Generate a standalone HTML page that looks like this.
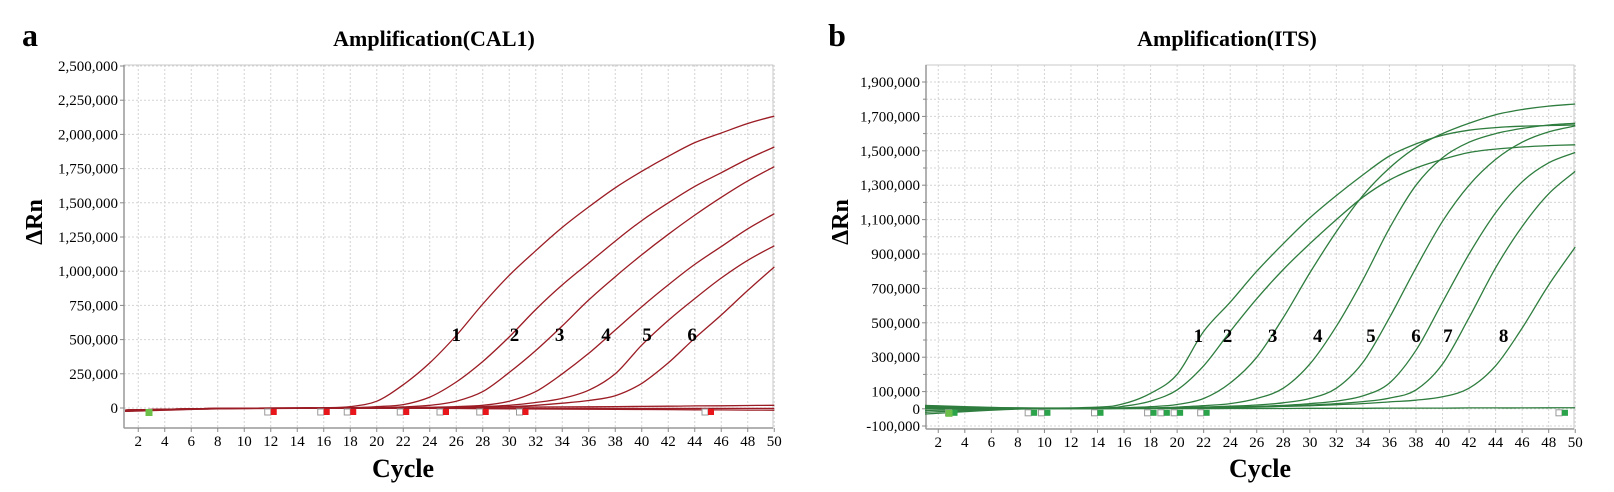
<!DOCTYPE html>
<html><head><meta charset="utf-8">
<style>
html,body{margin:0;padding:0;background:#fff;}
svg{display:block;font-family:"Liberation Serif",serif;}
</style></head>
<body>
<svg id="fig" width="1614" height="492" viewBox="0 0 1614 492" xmlns="http://www.w3.org/2000/svg">
<text x="30" y="46" font-size="32" font-weight="bold" text-anchor="middle">a</text>
<text x="434" y="46" font-size="22" font-weight="bold" text-anchor="middle">Amplification(CAL1)</text>
<text x="837" y="46" font-size="32" font-weight="bold" text-anchor="middle">b</text>
<text x="1227" y="46" font-size="22" font-weight="bold" text-anchor="middle">Amplification(ITS)</text>
<text x="403" y="477" font-size="26" font-weight="bold" text-anchor="middle">Cycle</text>
<text x="1260" y="477" font-size="26" font-weight="bold" text-anchor="middle">Cycle</text>
<text transform="translate(42,222) rotate(-90)" font-size="24" font-weight="bold" text-anchor="middle">ΔRn</text>
<text transform="translate(848,222) rotate(-90)" font-size="24" font-weight="bold" text-anchor="middle">ΔRn</text>
<g id="ga"></g><g id="gb"></g>
</svg>
<script>
// ---- data: chart a (CAL1), values in thousands
const cyclesA=[1,8,14,16,18,20,22,24,26,28,30,32,34,36,38,40,42,44,46,48,50];
const a1=[-15,-3,0,2,10,50,170,330,530,760,970,1150,1320,1470,1610,1730,1840,1940,2010,2080,2134];
const a2=[-15,-3,0,0,2,10,25,80,190,340,520,720,900,1060,1220,1370,1500,1620,1720,1820,1908];
const a3=[-15,-3,0,0,0,2,8,20,50,120,260,420,600,790,960,1120,1270,1410,1540,1660,1764];
const a4=[-15,-3,0,0,0,0,2,5,10,20,50,120,250,400,570,740,900,1050,1180,1310,1420];
const a5=[-15,-3,0,0,0,0,0,2,5,10,20,40,70,130,250,460,640,800,950,1080,1186];
const a6=[-15,-3,0,0,0,0,0,0,2,5,10,20,35,55,90,180,330,510,680,860,1031];
const aB1=[-20,-5,-2,-1,0,1,2,3,4,5,6,7,8,9,10,12,13,15,16,18,20];
const aB2=[-20,-5,-2,-2,-2,-2,-3,-3,-4,-5,-6,-7,-8,-9,-10,-11,-12,-13,-14,-15,-16];
const aB3=[-25,-6,-3,-3,-3,-3,-3,-3,-3,-3,-3,-3,-3,-3,-3,-3,-3,-3,-3,-3,-3];
const seriesA=[a1,a2,a3,a4,a5,a6,aB1,aB2,aB3];
const labelsA=["1","2","3","4","5","6"];
const labelCyclesA=[26.0,30.4,33.8,37.3,40.4,43.8];
const markersA=[12,16,18,22,25,28,31,45];
const yTicksA=[0,250,500,750,1000,1250,1500,1750,2000,2250,2500];
const xTicks=[2,4,6,8,10,12,14,16,18,20,22,24,26,28,30,32,34,36,38,40,42,44,46,48,50];
// ---- data: chart b (ITS)
const cyclesB=[1,8,14,16,18,20,22,24,26,28,30,32,34,36,38,40,42,44,46,48,50];
const b1=[20,5,10,30,90,200,450,620,800,960,1110,1240,1360,1470,1540,1590,1620,1635,1643,1647,1650];
const b2=[15,5,5,15,45,110,250,450,640,810,960,1100,1230,1330,1400,1450,1490,1510,1522,1530,1535];
const b3=[10,4,3,6,12,25,60,150,300,530,790,1030,1240,1400,1520,1600,1660,1710,1740,1760,1772];
const b4=[5,3,2,3,5,10,18,30,60,120,260,480,750,1050,1300,1460,1550,1600,1630,1650,1660];
const b5=[0,2,2,3,4,6,10,15,22,35,60,120,270,530,820,1090,1300,1450,1550,1610,1645];
const b6=[-10,1,2,3,4,5,7,10,14,20,30,45,75,150,340,620,900,1140,1320,1430,1490];
const b7=[-20,0,2,3,4,5,6,8,11,15,22,30,42,62,110,260,530,820,1060,1250,1380];
const b8=[-30,-2,1,2,3,4,5,7,10,14,18,24,30,40,50,70,120,250,470,720,940];
const bB=[10,2,1,1,1,1,1,2,2,2,3,3,3,4,4,4,5,5,5,6,6];
const seriesB=[b1,b2,b3,b4,b5,b6,b7,b8,bB];
const labelsB=["1","2","3","4","5","6","7","8"];
const labelCyclesB=[21.6,23.8,27.2,30.6,34.6,38.0,40.4,44.6];
const markersB=[3,9,10,14,18,19,20,22,49];
const yTicksB=[-100,0,100,300,500,700,900,1100,1300,1500,1700,1900];
const yMinorB=[200,400,600,800,1000,1200,1400,1600,1800];

const NS="http://www.w3.org/2000/svg";
function mk(parent,tag,attrs){const e=document.createElementNS(NS,tag);for(const k in attrs)e.setAttribute(k,attrs[k]);parent.appendChild(e);return e;}
function fmt(v){return v===0?"0":(v*1000).toLocaleString("en-US");}
function pathFrom(pts){let d="M"+pts[0][0].toFixed(1)+","+pts[0][1].toFixed(1);
 for(let i=0;i<pts.length-1;i++){const p0=pts[Math.max(0,i-1)],p1=pts[i],p2=pts[i+1],p3=pts[Math.min(pts.length-1,i+2)];
  const c1=[p1[0]+(p2[0]-p0[0])/6,p1[1]+(p2[1]-p0[1])/6],c2=[p2[0]-(p3[0]-p1[0])/6,p2[1]-(p3[1]-p1[1])/6];
  d+=" C"+c1[0].toFixed(1)+","+c1[1].toFixed(1)+" "+c2[0].toFixed(1)+","+c2[1].toFixed(1)+" "+p2[0].toFixed(1)+","+p2[1].toFixed(1);}
 return d;}

function drawChart(g,cfg){
 const X=c=>cfg.x0+(c-1)*cfg.dx;
 const Y=v=>cfg.y0-v*cfg.dy;
 const L=cfg.left,R=cfg.right,T=cfg.top,B=cfg.bottom;
 const grid=mk(g,"g",{});
 
 
 xTicks.forEach(t=>{mk(grid,"line",{x1:X(t),x2:X(t),y1:T,y2:B,stroke:"#d4d4d4","stroke-dasharray":"2,2","stroke-width":1});});
 cfg.yGrid.forEach(t=>{mk(grid,"line",{x1:L,x2:R,y1:Y(t),y2:Y(t),stroke:"#d4d4d4","stroke-dasharray":"2,2","stroke-width":1});});
 const frame=mk(g,"rect",{x:L,y:T,width:R-L,height:B-T,fill:"none",stroke:"#c8c8c8","stroke-width":1});
 
 
 mk(g,"line",{x1:L,x2:L,y1:T,y2:B,stroke:"#999","stroke-width":1.5});
 mk(g,"line",{x1:L,x2:R,y1:B,y2:B,stroke:"#999","stroke-width":1.5});
 cfg.yTicks.forEach(t=>{
  mk(g,"line",{x1:L-4,x2:L,y1:Y(t),y2:Y(t),stroke:"#888"});
  const tx=mk(g,"text",{x:L-6,y:Y(t)+5,"font-size":15,"text-anchor":"end"});tx.textContent=fmt(t);
  
  
 });
 (cfg.yMinor||[]).forEach(t=>{mk(g,"line",{x1:L-3,x2:L,y1:Y(t),y2:Y(t),stroke:"#888"});});
 xTicks.forEach(t=>{
  mk(g,"line",{x1:X(t),x2:X(t),y1:B,y2:B+4,stroke:"#888"});
  const tx=mk(g,"text",{x:X(t),y:B+18,"font-size":15,"text-anchor":"middle"});tx.textContent=t;
  
  
 });
 cfg.series.forEach((s,i)=>{
  const pts=cfg.cycles.map((c,j)=>[X(c),Y(s[j])]);
  const p=mk(g,"path",{d:pathFrom(pts),fill:"none",stroke:cfg.color,"stroke-width":1.3});
  
  
 });
 cfg.markers.forEach(c=>{
  mk(g,"rect",{x:X(c)-6,y:Y(0)+1,width:6,height:6,fill:"#fff",stroke:"#999","stroke-width":1});
  const m=mk(g,"rect",{x:X(c),y:Y(0)+1,width:6,height:6,fill:cfg.markColor});
  
  
 });
 const gm=mk(g,"rect",{x:X(3)-6,y:Y(0)+1,width:7,height:7,fill:"#6cc04a"});
 
 
 cfg.labels.forEach((l,i)=>{
  const tx=mk(g,"text",{x:X(cfg.labelCycles[i]),y:cfg.labelY,"font-size":19,"font-weight":"bold","text-anchor":"middle"});tx.textContent=l;
  
  
 });
}
drawChart(document.getElementById("ga"),{x0:125,dx:13.25,y0:408,dy:34.2/250,left:124,right:773,top:65,bottom:428,
 yTicks:yTicksA,yGrid:yTicksA,series:seriesA,cycles:cyclesA,color:"#9b1c24",markColor:"#e8151b",markers:markersA,
 labels:labelsA,labelCycles:labelCyclesA,labelY:341});
drawChart(document.getElementById("gb"),{x0:925,dx:13.27,y0:408.8,dy:0.172,left:926,right:1574,top:65,bottom:429,
 yTicks:yTicksB,yGrid:yTicksB.concat(yMinorB),yMinor:yMinorB,series:seriesB,cycles:cyclesB,color:"#2e7d3e",markColor:"#2aa34a",markers:markersB,
 labels:labelsB,labelCycles:labelCyclesB,labelY:342});
</script>
</body></html>
